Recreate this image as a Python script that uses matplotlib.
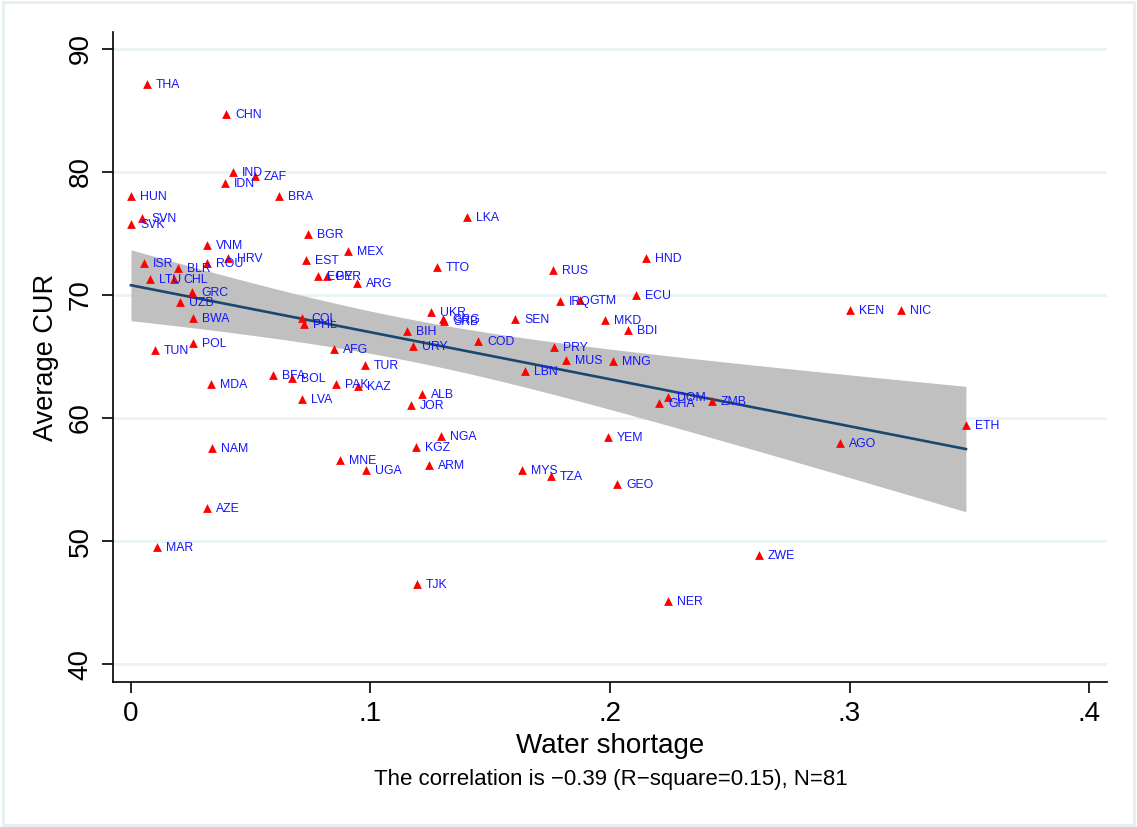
import numpy as np
import matplotlib.pyplot as plt
from matplotlib.patches import Rectangle

# country codes, water shortage and average CUR
countries = ["THA", "CHN", "IND", "ZAF", "IDN", "HUN", "BRA", "SVN", "SVK", "BGR",
             "LKA", "VNM", "MEX", "HND", "ISR", "HRV", "ROU", "EST", "TTO", "RUS",
             "BLR", "EGY", "PER", "ARG", "LTU", "CHL", "IRQ", "GTM", "ECU", "GRC",
             "UZB", "KEN", "NIC", "UKR", "GRG", "SRB", "SEN", "MKD", "BWA", "BDI",
             "COL", "PHL", "BIH", "COD", "POL", "TUN", "URY", "PRY", "AFG", "MUS",
             "MNG", "TUR", "LBN", "BFA", "BOL", "MDA", "PAK", "KAZ", "ALB", "DOM",
             "LVA", "GHA", "ZMB", "JOR", "ETH", "NGA", "YEM", "AGO", "NAM", "KGZ",
             "MNE", "ARM", "UGA", "MYS", "TZA", "GEO", "AZE", "MAR", "ZWE", "TJK",
             "NER"]
water = [0.0067, 0.0397, 0.0426, 0.0518, 0.0392, 0.0000, 0.0618, 0.0046, 0.0000, 0.0739,
         0.1403, 0.0317, 0.0906, 0.2150, 0.0054, 0.0405, 0.0317, 0.0731, 0.1278, 0.1762,
         0.0196, 0.0781, 0.0818, 0.0944, 0.0079, 0.0180, 0.1791, 0.1875, 0.2109, 0.0255,
         0.0205, 0.3002, 0.3215, 0.1253, 0.1303, 0.1307, 0.1603, 0.1979, 0.0259, 0.2075,
         0.0714, 0.0722, 0.1152, 0.1449, 0.0259, 0.0100, 0.1177, 0.1766, 0.0848, 0.1816,
         0.2013, 0.0977, 0.1645, 0.0593, 0.0672, 0.0334, 0.0856, 0.0948, 0.1215, 0.2242,
         0.0714, 0.2205, 0.2426, 0.1169, 0.3486, 0.1294, 0.1992, 0.2960, 0.0338, 0.1190,
         0.0873, 0.1244, 0.0981, 0.1633, 0.1754, 0.2029, 0.0317, 0.0109, 0.2622, 0.1194,
         0.2242]
cur = [87.15, 84.72, 80.00, 79.67, 79.11, 78.05, 78.05, 76.26, 75.77, 74.96,
       76.34, 74.07, 73.58, 73.01, 72.60, 73.01, 72.60, 72.85, 72.28, 72.03,
       72.20, 71.54, 71.54, 70.98, 71.30, 71.30, 69.51, 69.59, 70.00, 70.24,
       69.43, 68.78, 68.78, 68.62, 68.05, 67.89, 68.05, 67.97, 68.13, 67.15,
       68.13, 67.64, 67.07, 66.26, 66.10, 65.53, 65.85, 65.77, 65.61, 64.72,
       64.63, 64.31, 63.82, 63.50, 63.25, 62.76, 62.76, 62.60, 61.95, 61.71,
       61.54, 61.22, 61.38, 61.06, 59.43, 58.54, 58.46, 57.97, 57.56, 57.64,
       56.59, 56.18, 55.77, 55.77, 55.28, 54.63, 52.68, 49.51, 48.86, 46.50,
       45.12]

x_ticks = [0, 0.1, 0.2, 0.3, 0.4]
x_ticklabels = ["0", ".1", ".2", ".3", ".4"]
y_ticks = [40, 50, 60, 70, 80, 90]
caption = "The correlation is \u22120.39 (R\u2212square=0.15), N=81"

plt.rcParams['font.family'] = ['Liberation Sans', 'DejaVu Sans']

x = np.array(water)
y = np.array(cur)

# linear fit with 95% CI of the mean prediction (like Stata lfitci)
n = len(x)
b1, b0 = np.polyfit(x, y, 1)
resid = y - (b0 + b1 * x)
s = np.sqrt(np.sum(resid ** 2) / (n - 2))
sxx = np.sum((x - x.mean()) ** 2)
t_val = 1.99
xf = np.linspace(x.min(), x.max(), 200)
yf = b0 + b1 * xf
se = s * np.sqrt(1.0 / n + (xf - x.mean()) ** 2 / sxx)

fig = plt.figure(figsize=(11.37, 8.27), dpi=100)
fig.patch.set_facecolor('white')
fig.patches.append(Rectangle((0.003, 0.003), 0.994, 0.994, transform=fig.transFigure,
                             fill=False, edgecolor='#e6eef0', lw=2))
ax = fig.add_axes([0.0994, 0.1753, 0.8742, 0.786])

for yt in y_ticks:
    ax.axhline(yt, color='#eaf2f3', lw=2, zorder=0)

ax.fill_between(xf, yf - t_val * se, yf + t_val * se, color='#c0c0c0', lw=0, zorder=1)
ax.plot(xf, yf, color='#1a476f', lw=1.9, zorder=2)

ax.scatter(x, y, marker='^', s=40, color='red', linewidths=0, zorder=3)
for c, xi, yi in zip(countries, x, y):
    ax.annotate(c, (xi, yi), xytext=(6.5, -0.8), textcoords='offset points',
                fontsize=8.8, color='#1414ff', va='center', ha='left', zorder=4)

ax.set_xlim(-0.0075, 0.4075)
ax.set_ylim(38.54, 91.38)
ax.set_xticks(x_ticks)
ax.set_xticklabels(x_ticklabels)
ax.set_yticks(y_ticks)
ax.set_yticklabels([str(v) for v in y_ticks], rotation=90, va='center')

for side in ['top', 'right']:
    ax.spines[side].set_visible(False)
for side in ['left', 'bottom']:
    ax.spines[side].set_linewidth(1.2)
ax.tick_params(axis='both', direction='out', length=8, width=1.2, labelsize=20, pad=6)

ax.set_xlabel("Water shortage", fontsize=20, labelpad=4)
ax.set_ylabel("Average CUR", fontsize=19.5, labelpad=6)
fig.text(0.537, 0.058, caption, fontsize=16, ha='center', va='center')

plt.savefig("out.png", dpi=100)
